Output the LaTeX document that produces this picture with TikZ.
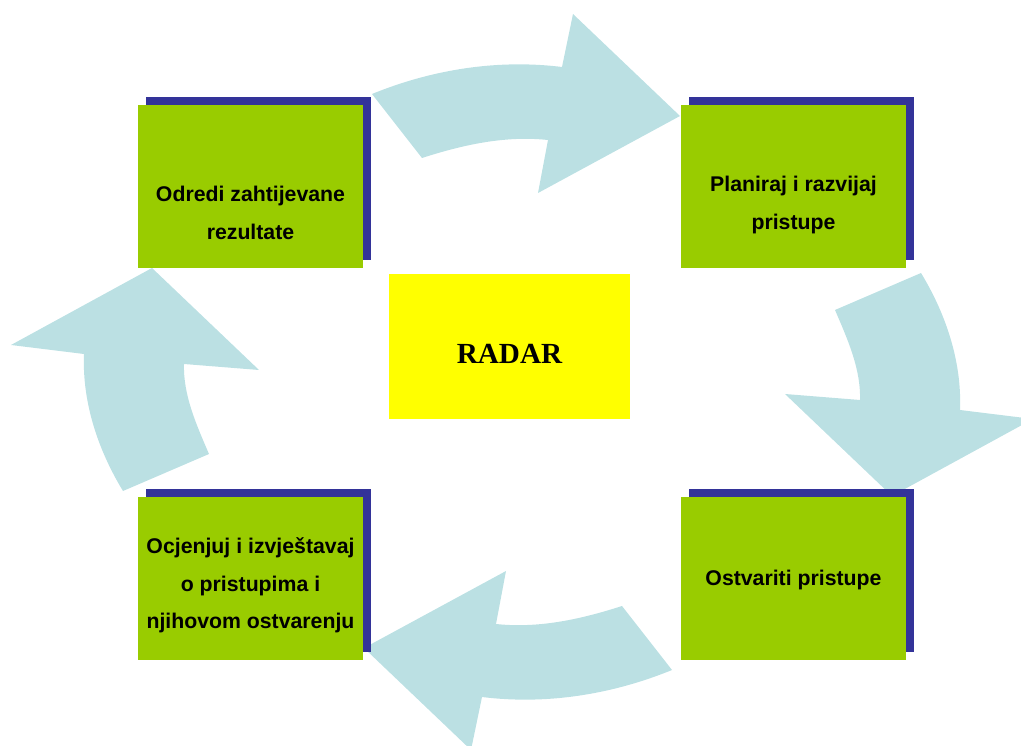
\documentclass[tikz,border=0pt]{standalone}
\usepackage{fontspec}
\setmainfont{Liberation Sans}
\newfontfamily\radarserif{Liberation Serif}
\definecolor{stagegreen}{HTML}{99CC00}
\definecolor{stageshadow}{HTML}{333399}
\definecolor{radaryellow}{HTML}{FFFF00}
\definecolor{cyclearrow}{HTML}{BBE0E3}
\tikzset{%
  stage box/.style={
    rectangle,
    fill=stagegreen,
    inner sep=0pt,
    minimum width=45mm,
    minimum height=32.6mm
  },
  stage shadow/.style={stage box, fill=stageshadow},
  stage text/.style={
    align=center,
    font=\fontsize{12.1}{21.2}\selectfont\bfseries
  },
  radar box/.style={
    rectangle,
    fill=radaryellow,
    inner sep=0pt,
    minimum width=48.2mm,
    minimum height=29mm
  },
  radar text/.style={font=\radarserif\fontsize{16.6}{20}\selectfont\bfseries},
  cycle arrow/.style={fill=cyclearrow, draw=none},
}

\begin{document}
\begin{tikzpicture}[x=0.2mm, y=-0.2mm]
        \useasboundingbox (0,0) rectangle (1021,746);
        \clip (0,0) rectangle (1021,746);

        % curved arrows, each pair is point symmetric
        \foreach \a in {0,180}
            \fill [cycle arrow, rotate around={\a:(522,382)}]
              (372,94) .. controls (432,69.5) and (497.5,59) .. (562,67)
              -- (573,14) -- (680,116) -- (538,193) -- (548,140)
              .. controls (505.3,135.4) and (462.9,144.8) .. (422,158) -- cycle;
        \foreach \a in {0,180}
            \fill [cycle arrow, rotate around={\a:(522,382)}]
              (123,491) .. controls (98,450) and (82,402) .. (84,354)
              -- (11,345) -- (152,268) -- (259,370) -- (184,364)
              .. controls (183,395) and (196.6,425.2) .. (209,454) -- cycle;

        \foreach \n/\x/\y in {odredi/250.5/186.5, planiraj/793.5/186.5, ostvariti/793.5/578.5, ocjenjuj/250.5/578.5} {
            \node [stage shadow] (\n-shadow) at (\x+8,\y-8) {};
            \node [stage box] (\n) at (\x,\y) {};
        }

        \foreach \n/\x/\y/\l in {odredi/250.5/213/{Odredi zahtijevane\\rezultate},
                                 planiraj/793.5/205/{Planiraj i razvijaj\\pristupe},
                                 ostvariti/793.5/580/{Ostvariti pristupe},
                                 ocjenjuj/250.5/585.5/{Ocjenjuj i izvještavaj\\o pristupima i\\njihovom ostvarenju}}
            \node [stage text] (\n-text) at (\x,\y) {\l};

        \node [radar box] (radar) at (509.5,346.5) {};
        \node [radar text] (radar-text) at (509.5,353.5) {RADAR};
\end{tikzpicture}
\end{document}
